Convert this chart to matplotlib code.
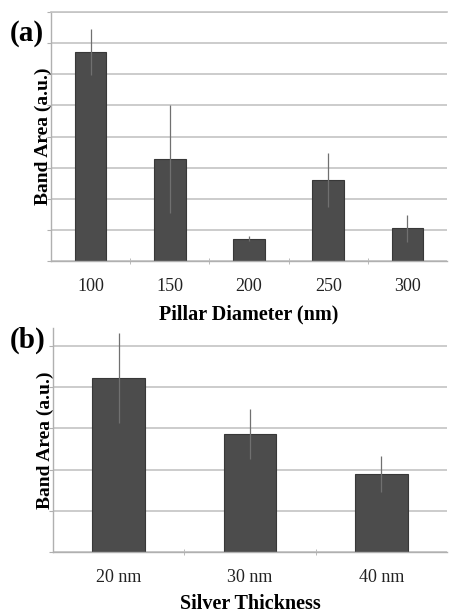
import matplotlib.pyplot as plt
import numpy as np

plt.rcParams['font.family'] = ['Liberation Serif', 'DejaVu Serif']

# (a) band area vs pillar diameter
diam_labels = ['100', '150', '200', '250', '300']
diam_area = [6.71, 3.27, 0.72, 2.60, 1.05]
diam_err = [0.73, 1.73, 0.09, 0.88, 0.43]

# (b) band area vs silver thickness
thick_labels = ['20 nm', '30 nm', '40 nm']
thick_area = [4.22, 2.86, 1.89]
thick_err = [1.09, 0.61, 0.44]

bar_col = '#4c4c4c'
edge_col = '#383838'
grid_col = '#c4c4c4'
err_col = '#707070'

fig = plt.figure(figsize=(4.49, 6.13), dpi=100)
ax1 = fig.add_axes([0.1136, 0.5742, 0.882, 0.4062])
ax2 = fig.add_axes([0.118, 0.0995, 0.8775, 0.3654])


def style(ax, n, ymax, nticks, box_top):
    ax.set_xlim(-0.5, n - 0.5)
    ax.set_ylim(0, ymax)
    ax.set_yticks(np.arange(0, nticks + 1))
    ax.set_yticklabels([])
    ax.yaxis.grid(True, color=grid_col, linewidth=1.2)
    ax.set_axisbelow(True)
    for s in ['left', 'bottom']:
        ax.spines[s].set_color('#b0b0b0')
        ax.spines[s].set_linewidth(1.0)
    ax.spines['right'].set_visible(False)
    ax.spines['top'].set_visible(box_top)
    ax.spines['top'].set_color(grid_col)
    ax.spines['top'].set_linewidth(1.2)
    ax.tick_params(axis='y', length=3, color='#b0b0b0')
    ax.tick_params(axis='x', which='major', length=0, labelsize=13, pad=12,
                   labelcolor='#222222')
    # category boundary ticks
    ax.set_xticks(np.arange(0.5, n - 0.5), minor=True)
    ax.tick_params(axis='x', which='minor', length=4, direction='inout',
                   color='#b0b0b0')


xa = np.arange(len(diam_labels))
ax1.bar(xa, diam_area, width=0.4, color=bar_col, edgecolor=edge_col, linewidth=0.8)
ax1.errorbar(xa, diam_area, yerr=diam_err, fmt='none', ecolor=err_col,
             elinewidth=0.9, capsize=0, clip_on=False)
style(ax1, len(diam_labels), 8, 8, True)
ax1.set_xticks(xa)
ax1.set_xticklabels(diam_labels)
ax1.set_xlabel('Pillar Diameter (nm)', fontsize=14.5, fontweight='bold', labelpad=7)
ax1.set_ylabel('Band Area (a.u.)', fontsize=14, fontweight='bold', labelpad=-7)

xb = np.arange(len(thick_labels))
ax2.bar(xb, thick_area, width=0.4, color=bar_col, edgecolor=edge_col, linewidth=0.8)
ax2.errorbar(xb, thick_area, yerr=thick_err, fmt='none', ecolor=err_col,
             elinewidth=0.9, capsize=0, clip_on=False)
style(ax2, len(thick_labels), 5.44, 5, False)
ax2.set_xticks(xb)
ax2.set_xticklabels(thick_labels)
ax2.set_xlabel('Silver Thickness', fontsize=14.5, fontweight='bold', labelpad=6)
ax2.set_ylabel('Band Area (a.u.)', fontsize=14, fontweight='bold', labelpad=-7)

fig.text(0.022, 0.945, '(a)', fontsize=21, fontweight='bold', va='center')
fig.text(0.022, 0.445, '(b)', fontsize=21, fontweight='bold', va='center')

fig.savefig('out.png', dpi=100)
